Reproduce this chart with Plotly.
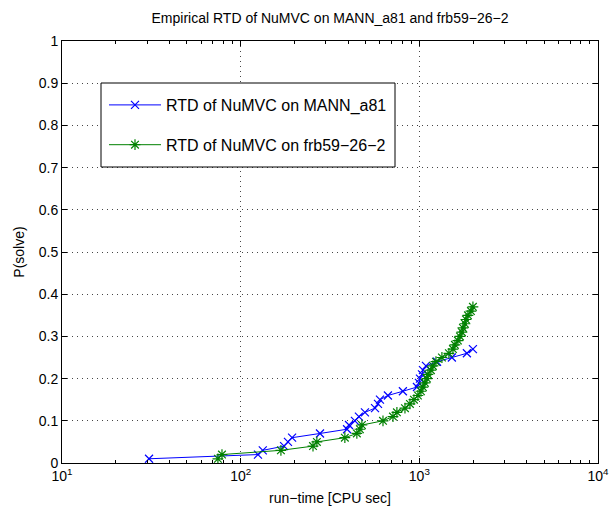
import plotly.graph_objects as go

# Empirical RTD data (P(solve) = k/100)
mann_time = [30.7, 125, 133, 175, 184, 194, 278, 394, 404, 436, 459, 496, 565, 587,
             602, 667, 809, 970, 995, 1008, 1035, 1048, 1089, 1256, 1521, 1846, 1995]
mann_p = [k / 100 for k in range(1, len(mann_time) + 1)]

frb_time = [74.6, 78.6, 168, 254, 267, 383, 447, 465, 477, 626, 712, 749, 831, 886,
            933, 982, 1021, 1047, 1075, 1103, 1117, 1161, 1191, 1239, 1338, 1464, 1542,
            1582, 1644, 1688, 1731, 1754, 1800, 1823, 1871, 1945, 1995]
frb_p = [k / 100 for k in range(1, len(frb_time) + 1)]

title_text = "Empirical RTD of NuMVC on MANN_a81 and frb59\u221226\u22122"
x_title = "run\u2212time [CPU sec]"
y_title = "P(solve)"
x_tickvals = [10, 100, 1000, 10000]
x_ticktext = ["10<sup>1</sup>", "10<sup>2</sup>", "10<sup>3</sup>", "10<sup>4</sup>"]
y_tickvals = [i / 10 for i in range(11)]
y_ticktext = ["0", "0.1", "0.2", "0.3", "0.4", "0.5", "0.6", "0.7", "0.8", "0.9", "1"]

FONT = "Liberation Sans, Arial, Helvetica, sans-serif"
W, H = 609, 510
L, R, T, B = 62, 11, 41, 47
PW, PH = W - L - R, H - T - B


def px_x(px):
    return (px - L) / PW


def px_y(py):
    return (H - B - py) / PH


fig = go.Figure()
fig.add_trace(go.Scatter(
    x=mann_time, y=mann_p, mode="lines+markers",
    name="RTD of NuMVC on MANN_a81", legendgroup="a",
    line=dict(color="rgb(0,0,255)", width=1),
    marker=dict(symbol="x-thin-open", size=8, color="rgb(0,0,255)",
                line=dict(color="rgb(0,0,255)", width=1.2)),
))
fig.add_trace(go.Scatter(
    x=frb_time, y=frb_p, mode="lines+markers",
    name="RTD of NuMVC on frb59\u221226\u22122", legendgroup="b",
    line=dict(color="rgb(0,128,0)", width=1),
    marker=dict(symbol="asterisk-open", size=9, color="rgb(0,128,0)",
                line=dict(color="rgb(0,128,0)", width=1.2)),
))

axis_common = dict(
    showline=True, linecolor="black", linewidth=1, mirror="allticks",
    ticks="inside", ticklen=5, tickcolor="black",
    showgrid=True, gridcolor="rgb(70,70,70)", griddash="1px,4px", gridwidth=1,
    zeroline=False, tickfont=dict(size=14, color="black", family=FONT),
    automargin=False, ticklabeloverflow="allow",
)

# legend frame (matches MATLAB legend box)
fig.add_shape(type="rect", xref="paper", yref="paper",
              x0=px_x(101), x1=px_x(395), y0=px_y(167), y1=px_y(83),
              line=dict(color="black", width=1), fillcolor="white", layer="above")

fig.update_layout(
    width=W, height=H,
    margin=dict(l=L, r=R, t=T, b=B, autoexpand=False),
    paper_bgcolor="white", plot_bgcolor="white",
    font=dict(family=FONT, color="black", size=13),
    title=dict(text=title_text, x=(L + PW / 2) / W, xanchor="center",
               y=1 - 18 / H, yanchor="middle", font=dict(size=14), automargin=False),
    xaxis=dict(type="log", range=[1, 4], tickvals=x_tickvals, ticktext=x_ticktext,
               title=dict(text=x_title, font=dict(size=14), standoff=10),
               minor=dict(ticks="inside", ticklen=3, tickcolor="black",
                          tickvals=[m * 10 ** e for e in range(1, 4) for m in range(2, 10)],
                          showgrid=False),
               **axis_common),
    yaxis=dict(range=[0, 1], tickvals=y_tickvals, ticktext=y_ticktext,
               title=dict(text=y_title, font=dict(size=14), standoff=10),
               **axis_common),
    legend=dict(x=px_x(104), y=px_y(88), xanchor="left", yanchor="top",
                bgcolor="rgba(0,0,0,0)", borderwidth=0,
                font=dict(size=16), traceorder="grouped", tracegroupgap=16,
                itemwidth=52),
    showlegend=True,
)

fig.write_html("out.html")
